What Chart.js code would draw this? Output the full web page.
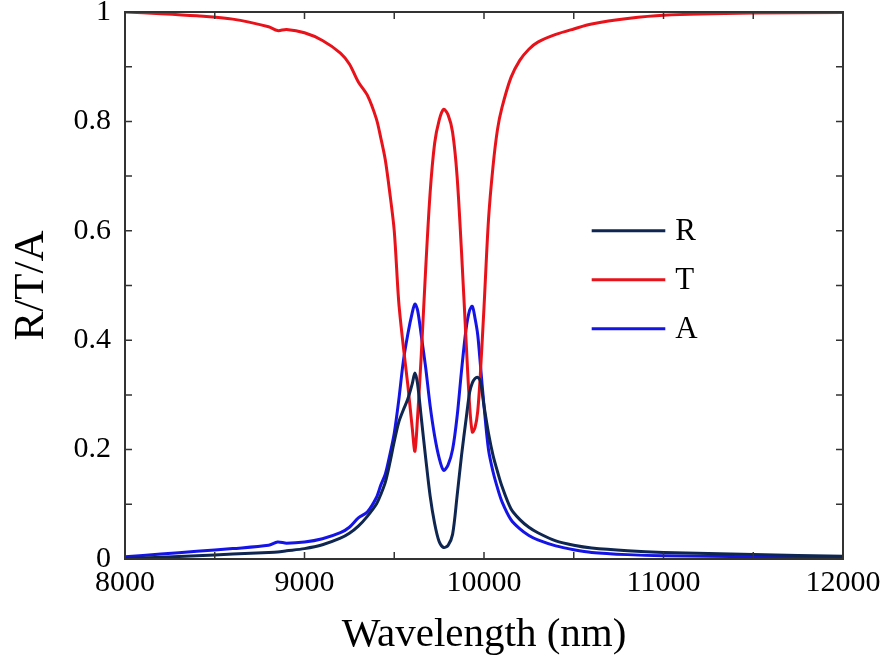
<!DOCTYPE html>
<html>
<head>
<meta charset="utf-8">
<script src="https://cdn.jsdelivr.net/npm/chart.js@4/dist/chart.umd.min.js"></script>
<style>
  html, body { margin: 0; padding: 0; background: #ffffff; }
  #wrap { width: 894px; height: 670px; }
</style>
</head>
<body>
<div id="wrap"><canvas id="c" width="894" height="670"></canvas></div>
<script>
// Wavelength grid (nm)
const wavelength = [8000, 8200, 8400, 8600, 8800, 8850, 8900, 9000, 9100, 9200, 9250, 9300, 9350, 9400, 9425, 9450, 9475, 9500, 9525, 9550, 9575, 9600, 9615, 9630, 9650, 9675, 9700, 9725, 9750, 9775, 9800, 9825, 9850, 9875, 9900, 9920, 9935, 9950, 9965, 9980, 10000, 10025, 10050, 10075, 10100, 10150, 10200, 10250, 10300, 10400, 10500, 10600, 10800, 11000, 11500, 12000];

const R = [0.001, 0.003, 0.006, 0.009, 0.012, 0.013, 0.015, 0.019, 0.026, 0.038, 0.047, 0.060, 0.078, 0.100, 0.118, 0.140, 0.175, 0.215, 0.250, 0.272, 0.292, 0.320, 0.340, 0.320, 0.260, 0.185, 0.115, 0.065, 0.032, 0.021, 0.025, 0.045, 0.115, 0.190, 0.255, 0.305, 0.322, 0.330, 0.332, 0.325, 0.280, 0.230, 0.190, 0.160, 0.133, 0.092, 0.072, 0.058, 0.048, 0.033, 0.025, 0.020, 0.015, 0.012, 0.008, 0.005];

const T = [1.000, 0.997, 0.993, 0.987, 0.973, 0.966, 0.968, 0.962, 0.948, 0.925, 0.905, 0.872, 0.848, 0.805, 0.770, 0.730, 0.670, 0.600, 0.470, 0.390, 0.320, 0.240, 0.197, 0.260, 0.370, 0.530, 0.670, 0.760, 0.802, 0.822, 0.812, 0.780, 0.700, 0.560, 0.400, 0.280, 0.232, 0.240, 0.270, 0.340, 0.460, 0.620, 0.717, 0.785, 0.825, 0.880, 0.912, 0.932, 0.945, 0.959, 0.969, 0.978, 0.988, 0.994, 0.998, 0.999];

const A = [0.004, 0.009, 0.014, 0.019, 0.025, 0.031, 0.029, 0.031, 0.037, 0.048, 0.058, 0.075, 0.086, 0.112, 0.135, 0.155, 0.190, 0.230, 0.290, 0.360, 0.410, 0.450, 0.466, 0.455, 0.410, 0.350, 0.280, 0.225, 0.185, 0.162, 0.172, 0.200, 0.260, 0.345, 0.420, 0.455, 0.462, 0.440, 0.410, 0.355, 0.280, 0.200, 0.160, 0.130, 0.105, 0.072, 0.055, 0.043, 0.035, 0.024, 0.017, 0.012, 0.008, 0.006, 0.004, 0.003];

const seriesNames = ['R', 'T', 'A'];
const xTickLabels = ['8000', '9000', '10000', '11000', '12000'];
const yTickLabels = ['0', '0.2', '0.4', '0.6', '0.8', '1'];

const colors = { R: '#0f2650', T: '#e8121a', A: '#1414e6' };
const seriesData = { R: R, T: T, A: A };

function pts(arr) { return wavelength.map((w, i) => ({ x: w, y: arr[i] })); }

const FONT = "'Liberation Serif', 'Times New Roman', serif";

const boxPlugin = {
  id: 'boxTicks',
  afterDatasetsDraw(chart) {
    const { ctx, chartArea: ca, scales } = chart;
    ctx.save();
    ctx.strokeStyle = '#333333';
    ctx.lineWidth = 2;
    ctx.strokeRect(ca.left, ca.top, ca.right - ca.left, ca.bottom - ca.top);
    ctx.lineWidth = 1.5;
    const tl = 7;
    scales.x.ticks.forEach(t => {
      const px = scales.x.getPixelForValue(t.value);
      ctx.beginPath();
      ctx.moveTo(px, ca.bottom); ctx.lineTo(px, ca.bottom - tl);
      ctx.moveTo(px, ca.top); ctx.lineTo(px, ca.top + tl);
      ctx.stroke();
    });
    scales.y.ticks.forEach(t => {
      const py = scales.y.getPixelForValue(t.value);
      ctx.beginPath();
      ctx.moveTo(ca.left, py); ctx.lineTo(ca.left + tl, py);
      ctx.moveTo(ca.right, py); ctx.lineTo(ca.right - tl, py);
      ctx.stroke();
    });
    // legend
    const lx = scales.x.getPixelForValue(10600);
    const lx2 = scales.x.getPixelForValue(11010);
    const y0 = scales.y.getPixelForValue(0.60);
    const dy = 49;
    ctx.font = '31px ' + FONT;
    ctx.textBaseline = 'middle';
    ctx.textAlign = 'left';
    chart.data.datasets.forEach((ds, i) => {
      const yy = y0 + i * dy;
      ctx.strokeStyle = ds.borderColor;
      ctx.lineWidth = 3;
      ctx.beginPath(); ctx.moveTo(lx, yy); ctx.lineTo(lx2, yy); ctx.stroke();
      ctx.fillStyle = '#000';
      ctx.fillText(ds.label, lx2 + 10, yy + 1);
    });
    ctx.restore();
  }
};

new Chart(document.getElementById('c'), {
  type: 'line',
  data: {
    datasets: seriesNames.map(n => ({
      label: n,
      data: pts(seriesData[n]),
      borderColor: colors[n],
      backgroundColor: colors[n],
      borderWidth: 3,
      pointRadius: 0,
      tension: 0.3,
      fill: false
    }))
  },
  options: {
    responsive: false,
    animation: false,
    layout: { padding: { top: 12, right: 51, bottom: 4, left: 0 } },
    plugins: { legend: { display: false }, tooltip: { enabled: false } },
    scales: {
      x: {
        type: 'linear', min: 8000, max: 12000,
        grid: { display: false, drawTicks: false },
        border: { display: false },
        ticks: {
          stepSize: 500, autoSkip: false, maxRotation: 0, padding: 6,
          color: '#000', font: { family: FONT, size: 30 },
          callback: (v) => { const i = xTickLabels.indexOf(String(v)); return i >= 0 ? xTickLabels[i] : ''; }
        },
        title: { display: true, text: 'Wavelength (nm)', color: '#000', font: { family: FONT, size: 41 }, padding: { top: 0, bottom: 6 } },
        afterFit: (s) => { s.height = 107; s.paddingLeft = 0; s.paddingRight = 0; }
      },
      y: {
        type: 'linear', min: 0, max: 1,
        grid: { display: false, drawTicks: false },
        border: { display: false },
        ticks: {
          stepSize: 0.1, autoSkip: false, padding: 14,
          color: '#000', font: { family: FONT, size: 30 },
          callback: (v) => { const k = Math.round(v * 10); return (k % 2 === 0) ? yTickLabels[k / 2] : ''; }
        },
        title: { display: true, text: 'R/T/A', color: '#000', font: { family: FONT, size: 43 }, padding: { top: 6, bottom: 0 } },
        afterFit: (s) => { s.width = 125; s.paddingTop = 0; s.paddingBottom = 0; }
      }
    }
  },
  plugins: [boxPlugin]
});
</script>
</body>
</html>
